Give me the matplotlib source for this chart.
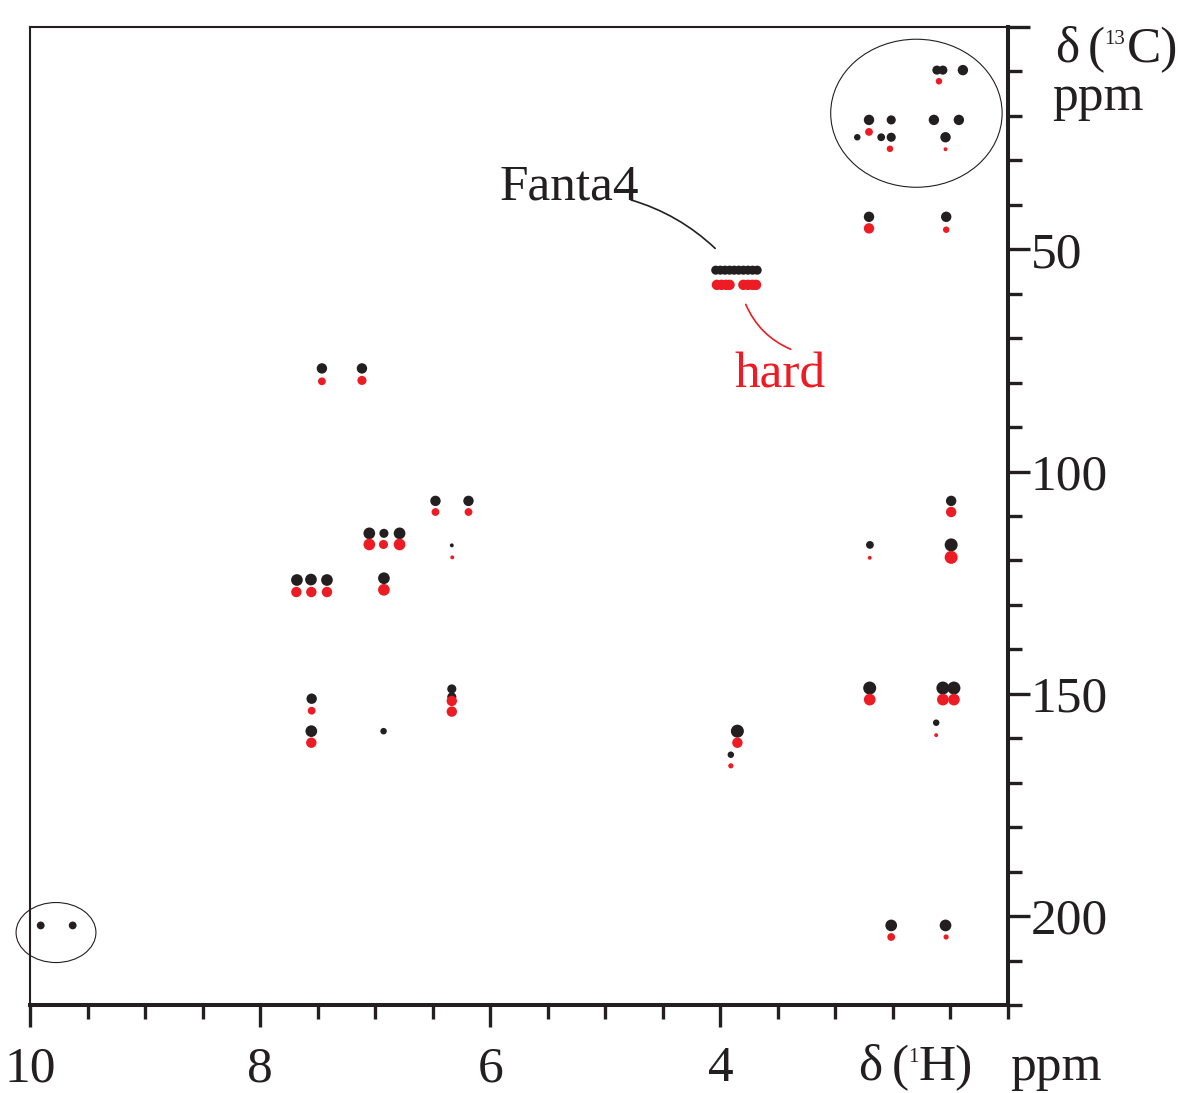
import matplotlib
matplotlib.use("Agg")
import matplotlib.pyplot as plt
from matplotlib.patches import Ellipse
import numpy as np

plt.rcParams['font.family'] = ['Liberation Serif', 'DejaVu Serif']

# ---------------- data (ppm) ----------------
# 1H shift (x) and 13C shift (y) of cross peaks, "Fanta4" spectrum (black)
black_h = [9.907, 9.629, 7.463, 7.115, 6.476, 6.189, 7.051, 6.924, 6.788, 6.334,
           7.680, 7.558, 7.419, 6.924, 7.552, 7.555, 6.927, 6.334, 6.334, 3.852,
           3.909, 2.700, 1.994, 1.994, 2.702, 2.066, 1.970, 2.124, 2.515, 2.043,
           2.118, 2.066, 1.892, 2.708, 2.515, 2.144, 1.927, 2.810, 2.602, 2.515,
           2.043, 2.708, 2.037,
           4.040, 4.000, 3.960, 3.920, 3.880, 3.840, 3.800, 3.760, 3.720, 3.680]
black_c = [202.1, 202.1, 76.8, 76.8, 106.6, 106.6, 113.9, 113.9, 113.9, 116.6,
           124.4, 124.3, 124.4, 124.0, 151.1, 158.4, 158.4, 148.9, 150.7, 158.4,
           163.7, 116.5, 106.6, 116.5, 148.7, 148.7, 148.7, 156.5, 202.1, 202.1,
           9.7, 9.7, 9.7, 20.9, 20.9, 20.9, 20.9, 24.8, 24.8, 24.8,
           24.8, 42.7, 42.7,
           54.7, 54.7, 54.7, 54.7, 54.7, 54.7, 54.7, 54.7, 54.7, 54.7]
# "hard" spectrum (red)
red_h = [7.463, 7.115, 6.476, 6.189, 7.051, 6.928, 6.788, 6.330, 7.685, 7.555,
         7.419, 6.924, 7.552, 7.555, 6.334, 6.334, 3.852, 3.909, 2.702, 1.994,
         1.994, 2.702, 2.066, 1.970, 2.124, 2.515, 2.038, 2.100, 2.708, 2.526,
         2.043, 2.708, 2.037,
         4.030, 3.990, 3.950, 3.920, 3.800, 3.760, 3.720, 3.690]
red_c = [79.7, 79.5, 109.1, 109.1, 116.4, 116.4, 116.4, 119.3, 127.1, 127.1,
         127.1, 126.6, 153.8, 161.0, 151.6, 154.0, 161.0, 166.2, 119.4, 109.1,
         119.3, 151.3, 151.3, 151.3, 159.3, 204.7, 204.7, 12.2, 23.6, 27.4,
         27.5, 45.3, 45.6,
         58.0, 58.0, 58.0, 58.0, 58.0, 58.0, 58.0, 58.0]

x_major = [10, 8, 6, 4]
x_major_labels = ['10', '8', '6', '4']
y_major = [0, 50, 100, 150, 200]
y_major_labels = ['', '50', '100', '150', '200']

# ---------------- style ----------------
black_size = [6, 6, 8, 8, 8, 8, 9, 7, 9, 3,
              9, 9, 9, 9, 8, 9, 5, 7, 7, 10,
              5, 6, 8, 10, 10, 10, 10, 5, 9, 9,
              7, 7, 8, 8, 7, 8, 8, 5, 6, 7,
              8, 8, 8,
              7, 7, 7, 7, 7, 7, 7, 7, 7, 7]
red_size = [6, 7, 6, 6, 9, 7, 9, 3, 8, 8,
            8, 9, 6, 8, 8, 8, 8, 4, 3, 8,
            10, 9, 9, 9, 3, 6, 4, 5, 6, 5,
            3, 8, 5,
            8, 8, 8, 8, 8, 8, 8, 8]
size_scale = 1.3

BLACK = '#231f20'
RED = '#ed1c24'
W, H = 1190, 1093
px2pt = 0.72
FS = 37

fig = plt.figure(figsize=(W / 100, H / 100), dpi=100)
ax = fig.add_axes([30 / W, 1 - 1005 / H, 978 / W, 978 / H])

ax.scatter(black_h, black_c, s=[(d * size_scale * px2pt) ** 2 for d in black_size],
           color=BLACK, edgecolors='none', zorder=3, clip_on=False)
ax.scatter(red_h, red_c, s=[(d * size_scale * px2pt) ** 2 for d in red_size],
           color=RED, edgecolors='none', zorder=4, clip_on=False)

ax.set_xlim(10, 1.5)
ax.set_ylim(220, 0)

ax.set_xticks(x_major)
ax.set_xticklabels(x_major_labels)
ax.set_xticks(np.arange(1.5, 10.01, 0.5), minor=True)
ax.yaxis.tick_right()
ax.set_yticks(y_major)
ax.set_yticklabels(y_major_labels)
ax.set_yticks(np.arange(0, 221, 10), minor=True)

ax.tick_params(which='both', direction='out', color=BLACK, width=2.4,
               labelsize=FS, labelcolor=BLACK)
ax.tick_params(which='major', length=15.5)
ax.tick_params(which='minor', length=9.8)
ax.tick_params(axis='x', which='both', top=False, bottom=True, pad=14)
ax.tick_params(axis='y', which='both', left=False, right=True, pad=1)

for side in ['left', 'top']:
    ax.spines[side].set_linewidth(1.5)
    ax.spines[side].set_color(BLACK)
for side in ['right', 'bottom']:
    ax.spines[side].set_linewidth(2.9)
    ax.spines[side].set_color(BLACK)

# circles
ax.add_patch(Ellipse((2.296, 19.4), 1.49, 33.3, fill=False, lw=0.8,
                     edgecolor=BLACK, clip_on=False, zorder=2))
ax.add_patch(Ellipse((9.774, 203.7), 0.694, 13.5, fill=False, lw=0.8,
                     edgecolor=BLACK, clip_on=False, zorder=2))

# annotations
ax.text(5.92, 38.8, 'Fanta4', fontsize=FS, color=BLACK, ha='left', va='baseline')
ax.annotate('', xy=(4.045, 49.8), xytext=(4.777, 38.9),
            arrowprops=dict(arrowstyle='-', color=BLACK, lw=1.2,
                            connectionstyle='arc3,rad=-0.12', shrinkA=0, shrinkB=0))
ax.text(3.88, 81.0, 'hard', fontsize=FS, color=RED, ha='left', va='baseline')
ax.annotate('', xy=(3.388, 72.5), xytext=(3.779, 62.4),
            arrowprops=dict(arrowstyle='-', color=RED, lw=1.2,
                            connectionstyle='arc3,rad=0.2', shrinkA=0, shrinkB=0))

# axis labels (built from pieces so the superscript stays small)
def ftext(xpx, ypx, s, size=FS):
    fig.text(xpx / W, 1 - ypx / H, s, fontsize=size, color=BLACK,
             ha='left', va='baseline')

ftext(1055, 62, 'δ')
ftext(1088, 62, '(')
ftext(1104, 44, '13', size=15)
ftext(1127, 62, 'C)')
ftext(1052, 110, 'ppm')

ftext(858, 1080, 'δ')
ftext(892, 1080, '(')
ftext(908, 1062, '1', size=15)
ftext(919, 1080, 'H)')
ftext(1010, 1080, 'ppm')

fig.savefig('out.png', dpi=100)
